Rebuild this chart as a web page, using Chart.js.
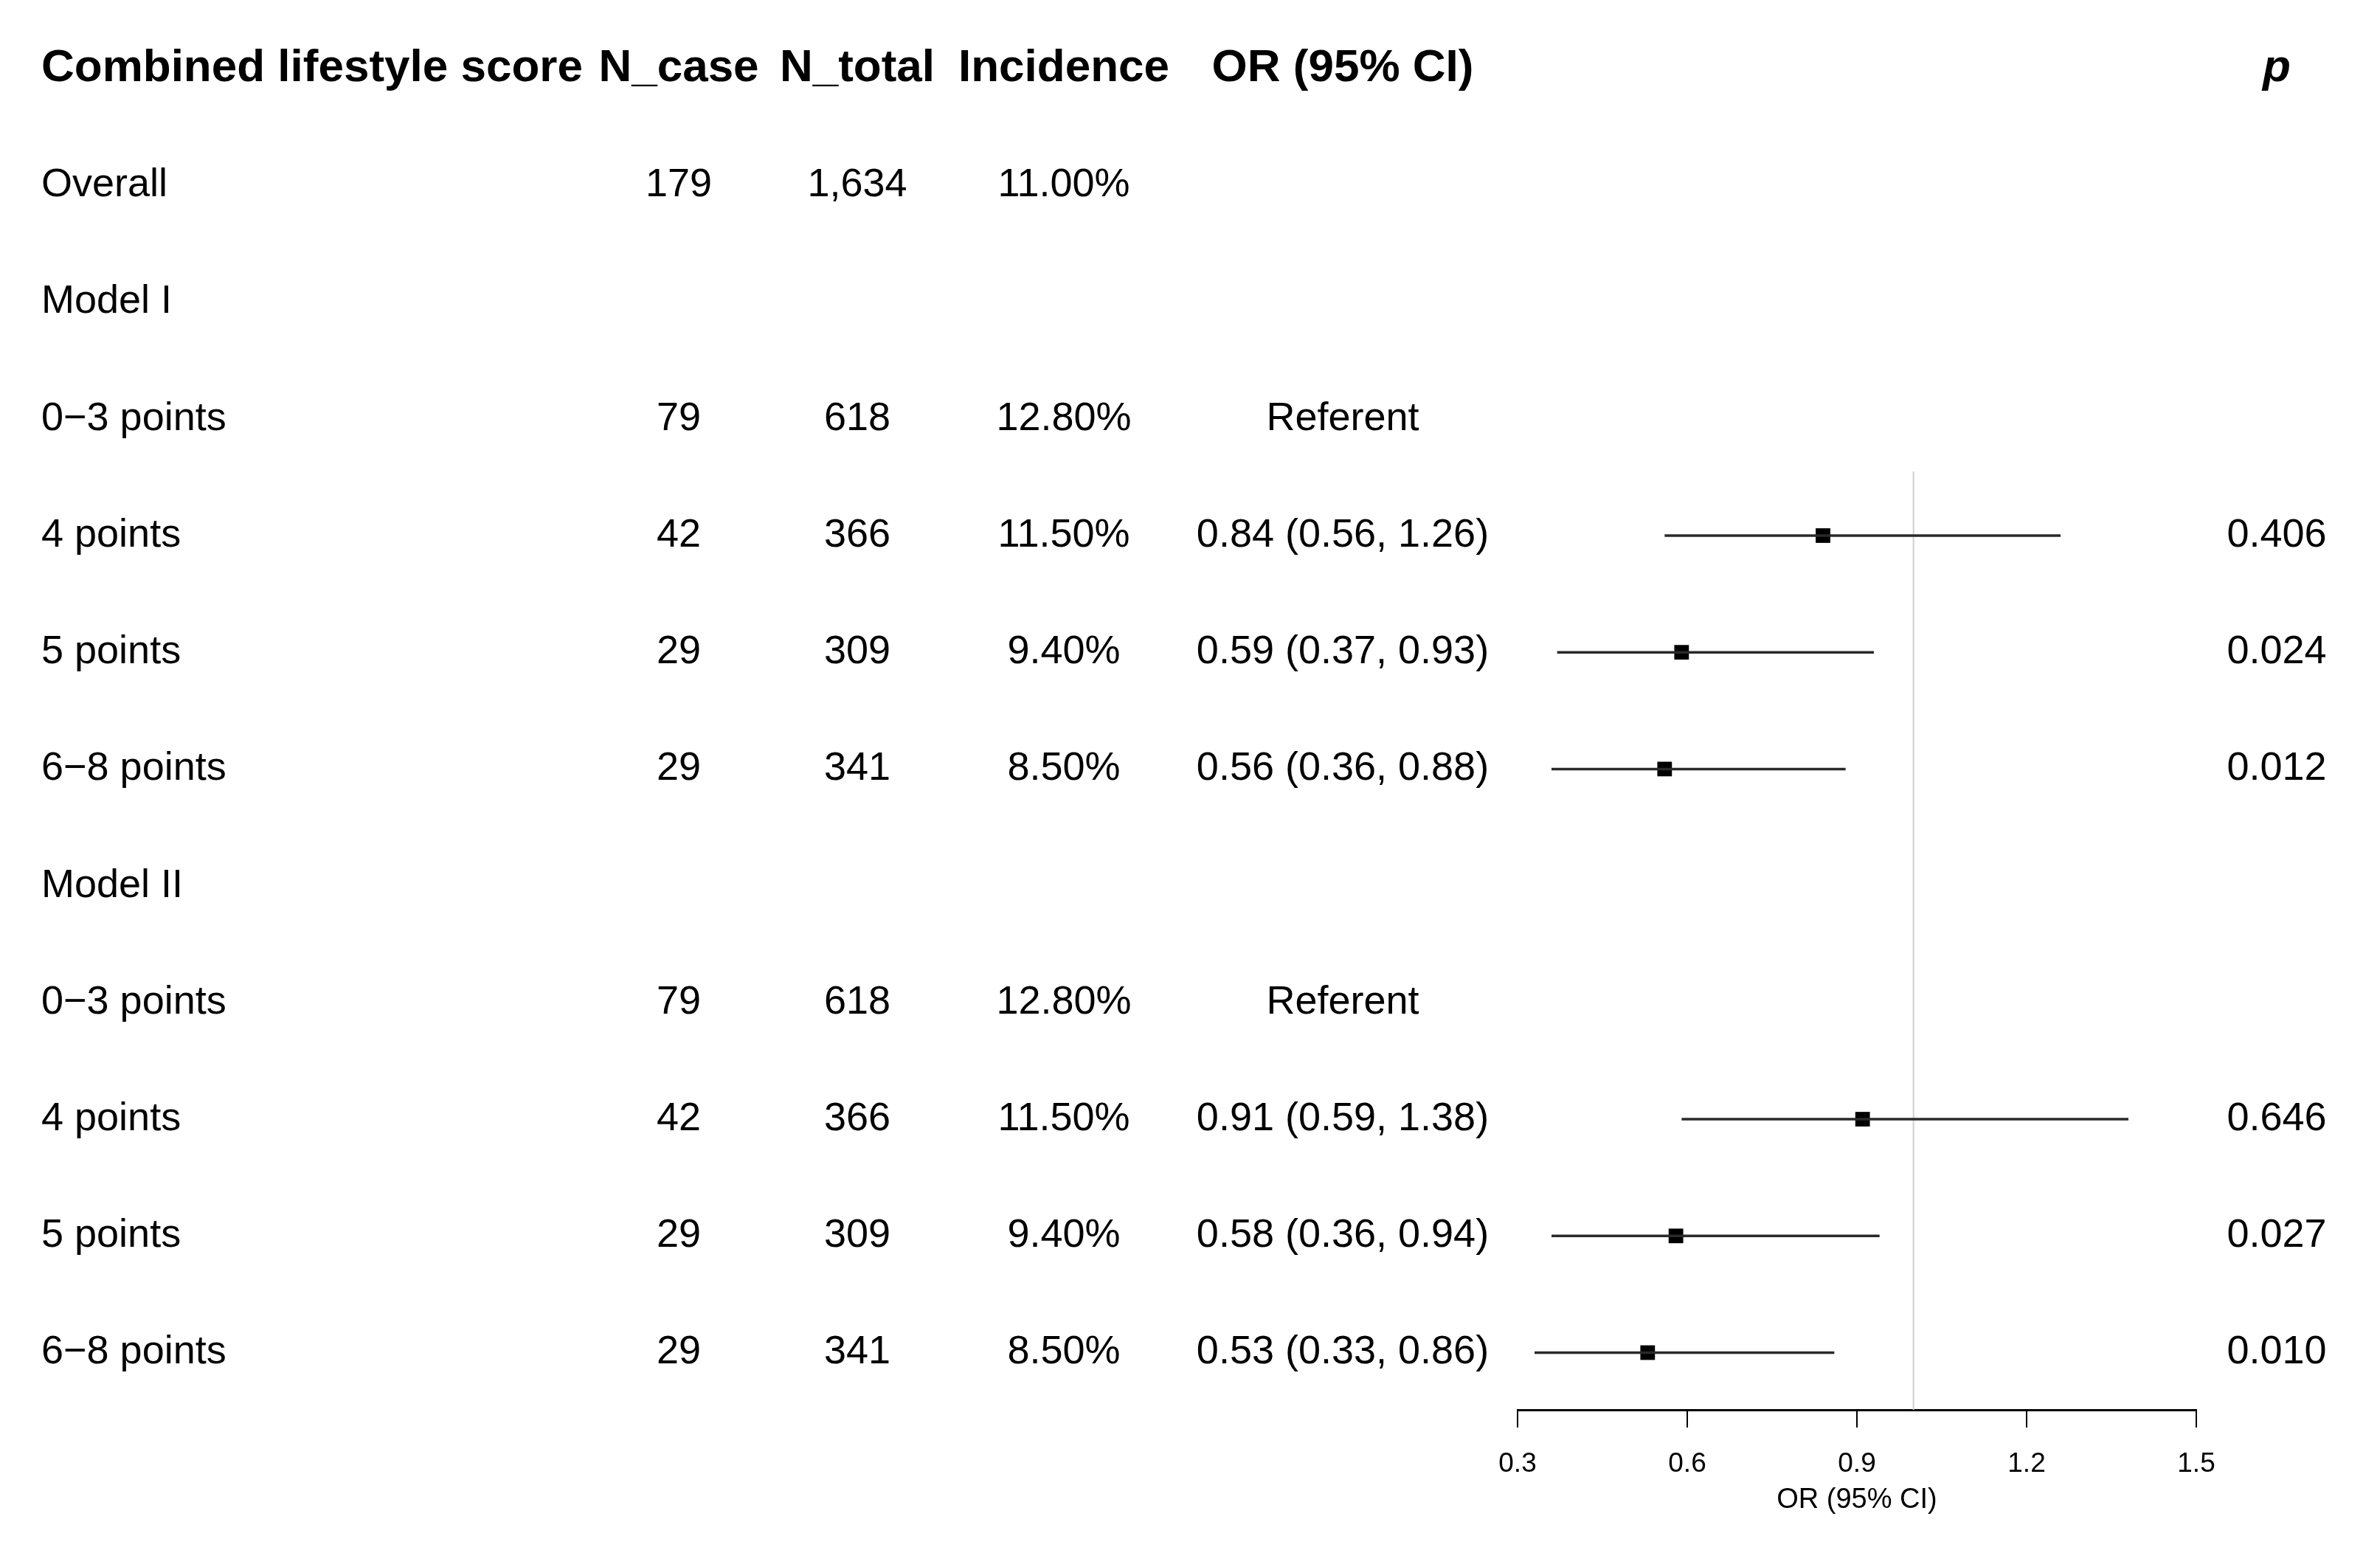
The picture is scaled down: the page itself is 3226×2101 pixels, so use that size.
<!DOCTYPE html>
<html>
<head>
<meta charset="utf-8">
<script src="https://cdn.jsdelivr.net/npm/chart.js@4"></script>
<style>
  html, body { margin: 0; padding: 0; background: #fff; }
  #wrap { width: 3226px; height: 2101px; position: relative; }
</style>
</head>
<body>
<div id="wrap"><canvas id="forest"></canvas></div>
<script>
// table columns
const headers = ['Combined lifestyle score', 'N_case', 'N_total', 'Incidence', 'OR (95% CI)', 'p'];
const rowLabels = ['Overall', 'Model I', '0\u22123 points', '4 points', '5 points', '6\u22128 points',
                   'Model II', '0\u22123 points', '4 points', '5 points', '6\u22128 points'];
const nCase = ['179', '', '79', '42', '29', '29', '', '79', '42', '29', '29'];
const nTotal = ['1,634', '', '618', '366', '309', '341', '', '618', '366', '309', '341'];
const incidence = ['11.00%', '', '12.80%', '11.50%', '9.40%', '8.50%', '', '12.80%', '11.50%', '9.40%', '8.50%'];
const orText = ['', '', 'Referent', '0.84 (0.56, 1.26)', '0.59 (0.37, 0.93)', '0.56 (0.36, 0.88)',
                '', 'Referent', '0.91 (0.59, 1.38)', '0.58 (0.36, 0.94)', '0.53 (0.33, 0.86)'];
const pText = ['', '', '', '0.406', '0.024', '0.012', '', '', '0.646', '0.027', '0.010'];

// forest values
const orEst = [null, null, null, 0.84, 0.59, 0.56, null, null, 0.91, 0.58, 0.53];
const orLow = [null, null, null, 0.56, 0.37, 0.36, null, null, 0.59, 0.36, 0.33];
const orHigh = [null, null, null, 1.26, 0.93, 0.88, null, null, 1.38, 0.94, 0.86];
const xTicks = [0.3, 0.6, 0.9, 1.2, 1.5];
const refValue = 1;

const FONT = '"Liberation Sans", Arial, sans-serif';
// column centres (x in px); first column is left aligned
const colX = [56, 920, 1162, 1442, 1820, 3086];

// row k+1 holds rowLabels[k]; header sits on row 0
const datasets = [];
orEst.forEach((v, i) => {
    if (v === null) return;
    datasets.push({
        data: [{ x: orLow[i], y: i + 1 }, { x: orHigh[i], y: i + 1 }],
        showLine: true,
        borderColor: '#2a2a2a',
        borderWidth: 3.5,
        pointRadius: 0
    });
});
datasets.push({
    data: orEst.map((v, i) => v === null ? null : { x: v, y: i + 1 }).filter(d => d),
    pointStyle: 'rect',
    pointRadius: 14,
    backgroundColor: '#000',
    borderColor: '#000',
    borderWidth: 0
});

const tablePlugin = {
    id: 'table',
    beforeDatasetsDraw(chart) {
        const ctx = chart.ctx;
        const xs = chart.scales.x, ys = chart.scales.y;
        // reference line at OR = 1
        ctx.save();
        ctx.strokeStyle = '#cfcfcf';
        ctx.lineWidth = 2;
        ctx.beginPath();
        ctx.moveTo(xs.getPixelForValue(refValue), ys.getPixelForValue(3.45));
        ctx.lineTo(xs.getPixelForValue(refValue), chart.chartArea.bottom);
        ctx.stroke();
        ctx.restore();
    },
    afterDraw(chart) {
        const ctx = chart.ctx;
        const ys = chart.scales.y;
        ctx.save();
        ctx.fillStyle = '#000';
        ctx.textBaseline = 'middle';

        let y0 = ys.getPixelForValue(0);
        headers.forEach((h, c) => {
            ctx.font = (c === 5 ? 'italic bold 62px ' : 'bold 62px ') + FONT;
            ctx.textAlign = c === 0 ? 'left' : 'center';
            ctx.fillText(h, colX[c], y0);
        });

        ctx.font = '54px ' + FONT;
        const cols = [rowLabels, nCase, nTotal, incidence, orText, pText];
        rowLabels.forEach((_, i) => {
            const y = ys.getPixelForValue(i + 1);
            cols.forEach((col, c) => {
                if (!col[i]) return;
                ctx.textAlign = c === 0 ? 'left' : 'center';
                ctx.fillText(col[i], colX[c], y);
            });
        });
        ctx.restore();
    }
};

new Chart(document.getElementById('forest'), {
    type: 'scatter',
    data: { datasets: datasets },
    plugins: [tablePlugin],
    options: {
        responsive: true,
        maintainAspectRatio: false,
        animation: false,
        layout: { padding: { left: 2057, right: 249, top: 13, bottom: 45 } },
        plugins: {
            legend: { display: false },
            tooltip: { enabled: false }
        },
        scales: {
            x: {
                type: 'linear',
                min: 0.3,
                max: 1.5,
                afterBuildTicks: s => { s.ticks = xTicks.map(v => ({ value: v })); },
                afterFit: s => { s.height = 145; },
                grid: {
                    drawOnChartArea: false,
                    drawTicks: true,
                    tickLength: 24,
                    color: '#000',
                    lineWidth: 2
                },
                border: { display: true, color: '#000', width: 3 },
                ticks: {
                    color: '#000',
                    padding: 28,
                    font: { family: FONT, size: 37 },
                    callback: v => v.toFixed(1)
                },
                title: {
                    display: true,
                    text: 'OR (95% CI)',
                    color: '#000',
                    font: { family: FONT, size: 38 },
                    padding: { top: 0, bottom: 0 }
                }
            },
            y: {
                type: 'linear',
                display: false,
                reverse: true,
                min: -0.5,
                max: 11.49
            }
        }
    }
});
</script>
</body>
</html>
